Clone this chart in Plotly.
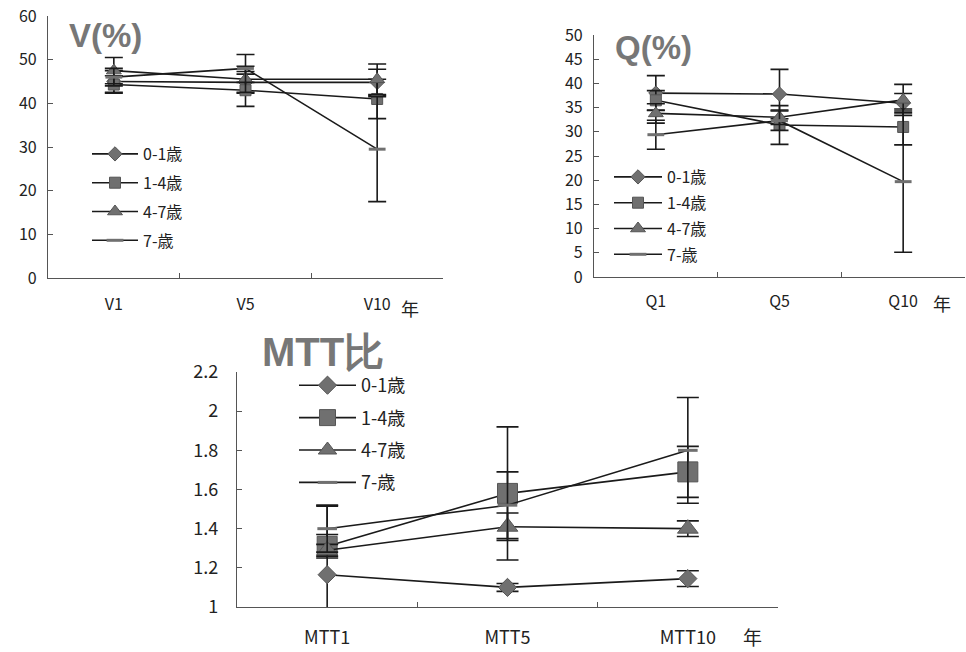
import plotly.graph_objects as go

groups = ["0-1歳", "1-4歳", "4-7歳", "7-歳"]

# V(%)
v_cats = ["V1", "V5", "V10"]
v_01 = [45.0, 44.8, 44.8]
v_14 = [44.3, 43.0, 41.0]
v_47 = [47.5, 45.5, 45.5]
v_7 = [46.0, 48.0, 29.5]
v_01_err = [2.5, 2.5, 3.0]
v_14_err = [2.0, 3.7, 4.5]
v_47_err = [3.0, 3.0, 3.5]
v_7_err = [2.0, 3.2, 12.0]
v_ticks = [0, 10, 20, 30, 40, 50, 60]

# Q(%)
q_cats = ["Q1", "Q5", "Q10"]
q_01 = [38.0, 37.8, 35.9]
q_14 = [36.5, 31.4, 31.0]
q_47 = [33.8, 33.0, 36.6]
q_7 = [29.4, 32.3, 19.7]
q_01_err = [3.6, 5.1, 2.0]
q_14_err = [2.0, 4.0, 3.7]
q_47_err = [2.0, 1.5, 3.2]
q_7_err = [3.0, 2.0, 14.6]
q_ticks = [0, 5, 10, 15, 20, 25, 30, 35, 40, 45, 50]

# MTT比
m_cats = ["MTT1", "MTT5", "MTT10"]
m_01 = [1.165, 1.10, 1.145]
m_14 = [1.31, 1.58, 1.69]
m_47 = [1.29, 1.41, 1.40]
m_7 = [1.40, 1.52, 1.80]
m_01_err = [0.35, 0.02, 0.04]
m_14_err = [0.06, 0.34, 0.13]
m_47_err = [0.03, 0.07, 0.04]
m_7_err = [0.12, 0.17, 0.27]
m_ticks = [1, 1.2, 1.4, 1.6, 1.8, 2, 2.2]
m_ticktext = ["1", "1.2", "1.4", "1.6", "1.8", "2", "2.2"]

symbols = ["diamond", "square", "triangle-up", "line-ew"]
FONT = "Noto Sans CJK JP"
MK = "#707070"
LN = "#1a1a1a"

fig = go.Figure()

def add_panel(cats, series, errs, xa, ya, leg, sizes, capw):
    for i, (g, vals, er) in enumerate(zip(groups, series, errs)):
        sym = symbols[i]
        if sym == "line-ew":
            marker = dict(symbol=sym, size=sizes[i], color=MK,
                          line=dict(color=MK, width=3))
        else:
            marker = dict(symbol=sym, size=sizes[i], color=MK,
                          line=dict(color="#555555", width=1))
        fig.add_trace(go.Scatter(
            x=cats, y=vals, name=g, mode="lines+markers",
            xaxis=xa, yaxis=ya, legend=leg, legendgroup=leg + str(i),
            line=dict(color=LN, width=1.6), marker=marker,
            error_y=dict(type="data", array=er, visible=True,
                         color=LN, thickness=1.6, width=capw),
        ))

add_panel(v_cats, [v_01, v_14, v_47, v_7],
          [v_01_err, v_14_err, v_47_err, v_7_err], "x", "y", "legend",
          [11, 11, 13, 12], 9)
add_panel(q_cats, [q_01, q_14, q_47, q_7],
          [q_01_err, q_14_err, q_47_err, q_7_err], "x2", "y2", "legend2",
          [11, 11, 13, 12], 9)
add_panel(m_cats, [m_01, m_14, m_47, m_7],
          [m_01_err, m_14_err, m_47_err, m_7_err], "x3", "y3", "legend3",
          [14, 20, 18, 14], 11)

W, H = 966, 652
def px(a, b):
    return [a / W, b / W]
def py(top, bottom):
    return [1 - bottom / H, 1 - top / H]

axis_common = dict(showgrid=False, zeroline=False, showline=True,
                   linecolor="#555555", linewidth=1.2, mirror=False,
                   automargin=False,
                   tickfont=dict(family=FONT, size=16, color="#222222"))

xcommon = dict(axis_common, type="category", ticks="inside", ticklen=5,
               tickcolor="#555555", tickson="boundaries")
ycommon = dict(axis_common, ticks="inside", ticklen=5, tickcolor="#555555")

big = dict(family=FONT, size=18, color="#222222")

fig.update_layout(
    width=W, height=H, margin=dict(l=0, r=0, t=0, b=0, autoexpand=False),
    paper_bgcolor="white", plot_bgcolor="white",
    font=dict(family=FONT, color="#222222"),
    xaxis=dict(xcommon, domain=px(48, 443), anchor="y",
               range=[-0.5, 2.5], ticklabelstandoff=12),
    yaxis=dict(ycommon, domain=py(16, 278), anchor="x", range=[0, 60],
               tickvals=v_ticks, ticklabelstandoff=7),
    xaxis2=dict(xcommon, domain=px(594, 965), anchor="y2",
                range=[-0.5, 2.5], ticklabelstandoff=10),
    yaxis2=dict(ycommon, domain=py(35, 277), anchor="x2", range=[0, 50],
                tickvals=q_ticks, ticklabelstandoff=7),
    xaxis3=dict(xcommon, domain=px(237, 778), anchor="y3",
                range=[-0.5, 2.5], ticklabelstandoff=14, tickfont=big),
    yaxis3=dict(ycommon, domain=py(372, 607), anchor="x3", range=[1, 2.2],
                tickvals=m_ticks, ticktext=m_ticktext, ticklabelstandoff=14,
                tickfont=big),
    legend=dict(x=87 / W, y=1 - 137 / H, xanchor="left", yanchor="top",
                bgcolor="rgba(0,0,0,0)", font=dict(family=FONT, size=16),
                tracegroupgap=5, itemwidth=46),
    legend2=dict(x=609 / W, y=1 - 160 / H, xanchor="left", yanchor="top",
                 bgcolor="rgba(0,0,0,0)", font=dict(family=FONT, size=16),
                 tracegroupgap=2, itemwidth=48),
    legend3=dict(x=294 / W, y=1 - 367 / H, xanchor="left", yanchor="top",
                 bgcolor="rgba(0,0,0,0)", font=dict(family=FONT, size=18),
                 tracegroupgap=6, itemwidth=57),
    showlegend=True,
)

annos = [
    dict(text="<b>V(%)</b>", x=67 / W, y=1 - 35 / H, size=33),
    dict(text="<b>Q(%)</b>", x=613 / W, y=1 - 47 / H, size=33),
    dict(text="<b>MTT比</b>", x=260 / W, y=1 - 352 / H, size=40),
]
for a in annos:
    fig.add_annotation(xref="paper", yref="paper", xanchor="left",
                       yanchor="middle", showarrow=False,
                       font=dict(family="Liberation Sans", size=a["size"],
                                 color="#777777"),
                       text=a["text"], x=a["x"], y=a["y"])

for (xx, yy, s) in [(410, 308, 18), (942, 303, 18), (752, 636, 19)]:
    fig.add_annotation(text="年", xref="paper", yref="paper", x=xx / W,
                       y=1 - yy / H, xanchor="center", yanchor="middle",
                       showarrow=False,
                       font=dict(family=FONT, size=s, color="#222222"))

fig.write_html("out.html", config={"displayModeBar": False},
               post_script="document.body.style.margin='0';")
